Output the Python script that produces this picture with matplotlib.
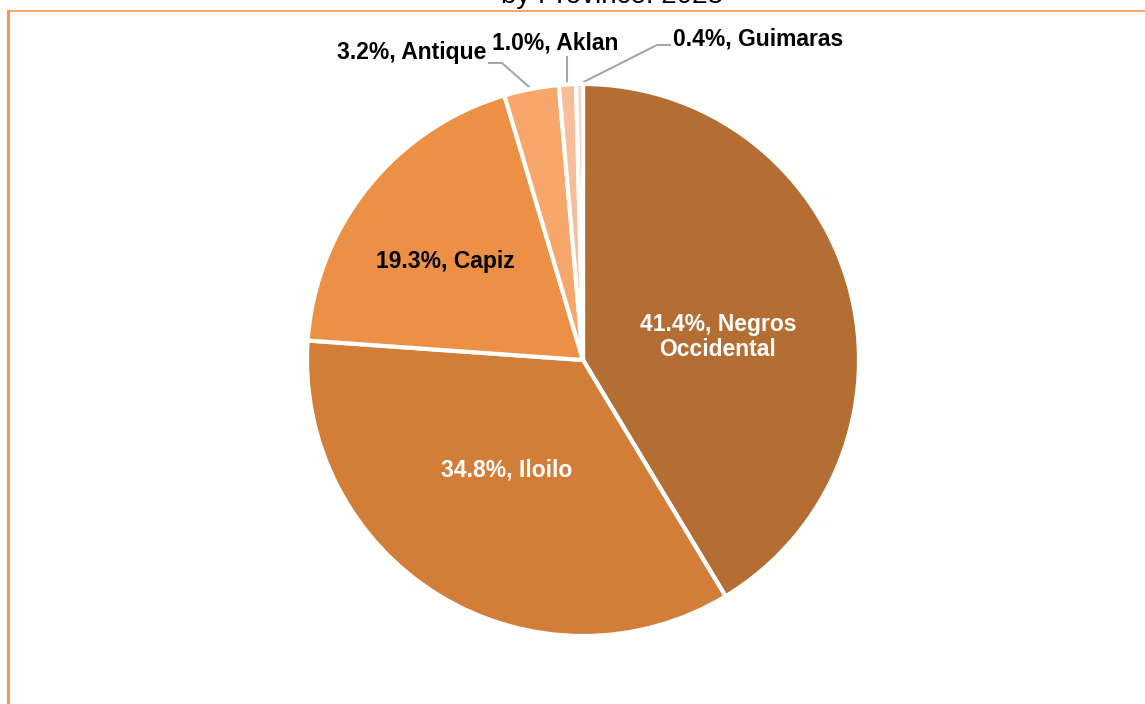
import numpy as np
import matplotlib.pyplot as plt
from matplotlib.lines import Line2D

# Data
provinces = ['Negros Occidental', 'Iloilo', 'Capiz', 'Antique', 'Aklan', 'Guimaras']
shares = [41.4, 34.8, 19.3, 3.2, 1.0, 0.4]
colors = ['#B46E33', '#D37E38', '#EB9044', '#F7A66C', '#F8BE9A', '#FAD4BF']
label_text = ['41.4%, Negros\nOccidental', '34.8%, Iloilo', '19.3%, Capiz',
              '3.2%, Antique', '1.0%, Aklan', '0.4%, Guimaras']

W, H = 1145, 704
fig = plt.figure(figsize=(W / 100, H / 100), dpi=100)

# pie centre / radius in pixels
cx, cy, r = 583, 360, 276
ax = fig.add_axes([(cx - r) / W, (H - cy - r) / H, 2 * r / W, 2 * r / H])

wedges, _ = ax.pie(shares, colors=colors, startangle=90, counterclock=False,
                   radius=1, wedgeprops=dict(edgecolor='white', linewidth=3))
# pie() resets the limits, so set them afterwards
ax.set_xlim(-1, 1)
ax.set_ylim(-1, 1)
ax.set_aspect('equal')
ax.axis('off')

font = ['Liberation Sans Narrow', 'Liberation Sans', 'DejaVu Sans']
fs = 16.5


def px(x, y):
    # pixel position -> data coords of the pie axes
    return (x - cx) / r, (cy - y) / r


# inside labels
inside = {0: ((718, 337), 'white'), 1: ((507, 470), 'white'), 2: ((445, 262), 'black')}
for i, (pos, col) in inside.items():
    x, y = px(*pos)
    ax.text(x, y, label_text[i], ha='center', va='center', color=col,
            fontsize=fs, fontweight='bold', family=font, linespacing=1.1)

# outside labels with leader lines
outside = {
    3: dict(text=(486, 52), ha='right', elbow=(502, 63), end=(489, 63)),
    4: dict(text=(555, 43), ha='center', elbow=None, end=(None, 57)),
    5: dict(text=(673, 39), ha='left', elbow=(657, 45), end=(670, 45)),
}
for i, o in outside.items():
    w = wedges[i]
    mid = np.deg2rad((w.theta1 + w.theta2) / 2)
    sx, sy = np.cos(mid), np.sin(mid)
    tx, ty = px(*o['text'])
    ax.text(tx, ty, label_text[i], ha=o['ha'], va='center', color='black',
            fontsize=fs, fontweight='bold', family=font, clip_on=False)
    if o['elbow'] is None:
        ex, ey = px(cx + sx * r, o['end'][1])
        xs, ys = [sx, ex], [sy, ey]
    else:
        bx, by = px(*o['elbow'])
        ex, ey = px(*o['end'])
        xs, ys = [sx, bx, ex], [sy, by, ey]
    ax.plot(xs, ys, color='#A6A6A6', lw=1.5, clip_on=False, zorder=0.5)

# title (cut off at the top of the image)
fig.text(612 / W, 1 - 3 / H, 'by Province: 2023', ha='center', va='baseline',
         fontsize=20, family=['Liberation Sans', 'DejaVu Sans'], color='black')

# orange chart border
border = '#F79646'
fig.add_artist(Line2D([7.5 / W, 1], [1 - 10.5 / H] * 2, color=border, lw=1.2,
                      transform=fig.transFigure))
fig.add_artist(Line2D([7.5 / W] * 2, [0, 1 - 10.5 / H], color=border, lw=2.2,
                      transform=fig.transFigure))

fig.savefig('out.png', dpi=100)
